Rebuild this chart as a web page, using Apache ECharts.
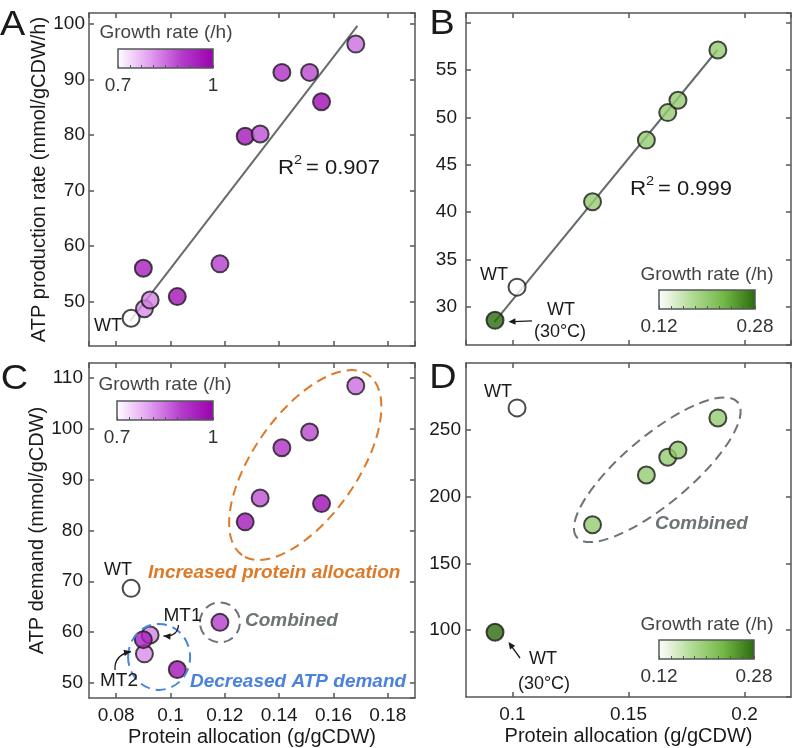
<!DOCTYPE html>
<html><head><meta charset="utf-8">
<script src="https://cdn.jsdelivr.net/npm/echarts@6/dist/echarts.min.js"></script>
<style>html,body{margin:0;padding:0;background:#fff}#c{width:793px;height:748px}</style>
</head><body><div id="c"></div>
<script>
// ---------- data ----------
// Panels A & C share strains (protein allocation, g/gCDW)
const xAC = [0.0855, 0.0904, 0.0925, 0.0900, 0.1025, 0.1182, 0.1275, 0.1330, 0.1410, 0.1512, 0.1556, 0.1682];
const yA  = [47.0, 48.7, 50.3, 56.0, 50.9, 56.8, 79.8, 80.2, 91.3, 91.3, 86.0, 96.4];   // ATP production rate
const yC  = [68.6, 55.7, 59.4, 58.5, 52.6, 61.9, 81.7, 86.4, 96.3, 99.4, 85.3, 108.5]; // ATP demand
const growthAC = [0.70, 0.82, 0.83, 0.95, 0.97, 0.90, 0.96, 0.88, 0.92, 0.89, 0.98, 0.85];
// Panels B & D share strains
const xBD = [0.1020, 0.0925, 0.1345, 0.1577, 0.1669, 0.1713, 0.1885];
const yB  = [32.1, 28.6, 41.1, 47.6, 50.5, 51.8, 57.1];
const yD  = [266.4, 98.5, 178.9, 216.2, 229.4, 234.8, 258.9];
const growthBD = [0.12, 0.28, 0.20, 0.20, 0.20, 0.20, 0.20];
// regression lines (end points)
const fitAx = [0.0851, 0.1688], fitAy = [46.5, 99.7];
const fitBx = [0.0922, 0.1883], fitBy = [28.4, 57.1];
// colour scales
const purpleRange = [0.7, 1];
const greenRange = [0.12, 0.28];
const purpleLabels = ['0.7', '1'];
const greenLabels = ['0.12', '0.28'];

// ---------- styling ----------
const FONT = '"Liberation Sans", Arial, Helvetica, sans-serif';
const AX = '#535858';
const purple = ['#ffffff', '#e2a0f0', '#b43ccc', '#9a00ae'];
const green = ['#ffffff', '#b5dc98', '#74b948', '#2c6a0c'];

const grids = [
  {left: 89, top: 13, width: 326, height: 333},
  {left: 466, top: 13, width: 325, height: 332},
  {left: 89, top: 363, width: 326, height: 335},
  {left: 466, top: 363, width: 325, height: 334},
  {left: 118, top: 49, width: 95, height: 19},
  {left: 659, top: 290, width: 96, height: 19},
  {left: 117, top: 401, width: 96, height: 19},
  {left: 659, top: 640, width: 95, height: 19}
];
function grad(cols) {
  return new echarts.graphic.LinearGradient(0, 0, 1, 0,
    cols.map((c, i) => ({offset: i / (cols.length - 1), color: c})));
}
const gridOpts = grids.map((g, i) => Object.assign({containLabel: false}, g, i >= 4 ? {
  show: true, borderColor: AX, borderWidth: 1.5,
  backgroundColor: grad(i === 4 || i === 6 ? purple : green)
} : {show: false}));

const lineS = {show: true, lineStyle: {color: AX, width: 1.5}};
const tickS = {show: true, inside: true, length: 5, lineStyle: {color: AX, width: 1.5}};
const lblS = {color: '#1a1a1a', fontSize: 19, fontFamily: FONT, showMinLabel: false, showMaxLabel: false};

const xr = [[0.07, 0.19, 5], [0.08, 0.22, 3], [0.07, 0.19, 5], [0.08, 0.22, 3]];
const yr = [[42, 102, 6], [26, 61, 7], [47, 113, 5], [50, 300, 5]];
const yMargin = [4, 9, 6, 5];
const yNameGap = [35, 0, 38, 0];
const hideY = {1: [60]};

const xAxes = [], yAxes = [];
for (let i = 0; i < 4; i++) {
  const showLbl = i >= 2;
  const ax = {type: 'value', gridIndex: i, position: 'bottom', min: xr[i][0], max: xr[i][1], splitNumber: xr[i][2],
    axisLine: lineS, axisTick: tickS, splitLine: {show: false},
    axisLabel: Object.assign({}, lblS, {show: showLbl, margin: 8})};
  if (showLbl) Object.assign(ax, {name: 'Protein allocation (g/gCDW)', nameLocation: 'middle', nameGap: 29,
    nameTextStyle: {color: '#1a1a1a', fontSize: 20, fontFamily: FONT}});
  xAxes[i] = ax;
  const ay = {type: 'value', gridIndex: i, position: 'left', min: yr[i][0], max: yr[i][1], splitNumber: yr[i][2],
    axisLine: lineS, axisTick: tickS, splitLine: {show: false},
    axisLabel: Object.assign({}, lblS, {margin: yMargin[i], formatter: v => (hideY[i] && hideY[i].includes(v)) ? '' : String(v)})};
  if (i === 0 || i === 2) Object.assign(ay, {name: i === 0 ? 'ATP production rate (mmol/gCDW/h)' : 'ATP demand (mmol/gCDW)',
    nameLocation: 'middle', nameGap: yNameGap[i], nameTextStyle: {color: '#1a1a1a', fontSize: 20, fontFamily: FONT}});
  yAxes[i] = ay;
}
for (let i = 0; i < 4; i++) {
  xAxes[4 + i] = {type: 'value', gridIndex: i, position: 'top', min: xr[i][0], max: xr[i][1], splitNumber: xr[i][2],
    axisLine: lineS, axisTick: tickS, splitLine: {show: false}, axisLabel: {show: false}};
  yAxes[4 + i] = {type: 'value', gridIndex: i, position: 'right', min: yr[i][0], max: yr[i][1], splitNumber: yr[i][2],
    axisLine: lineS, axisTick: tickS, splitLine: {show: false}, axisLabel: {show: false}};
}
for (let k = 0; k < 4; k++) {
  const r = (k === 0 || k === 2) ? purpleRange : greenRange;
  const labs = (k === 0 || k === 2) ? purpleLabels : greenLabels;
  xAxes[8 + k] = {type: 'value', gridIndex: 4 + k, min: r[0], max: r[1], interval: (r[1] - r[0]) / 8,
    axisLine: {show: false}, axisTick: {show: true, inside: true, length: 3, lineStyle: {color: AX, width: 1}},
    splitLine: {show: false},
    axisLabel: {color: '#333', fontSize: 19, fontFamily: FONT, margin: 8, showMinLabel: true, showMaxLabel: true,
      formatter: v => Math.abs(v - r[0]) < 1e-9 ? labs[0] : (Math.abs(v - r[1]) < 1e-9 ? labs[1] : '')}};
  yAxes[8 + k] = {type: 'value', gridIndex: 4 + k, min: 0, max: 1, show: false};
}

const pt = {borderColor: '#1c1c1c', borderWidth: 2};
const series = [
  {type: 'line', xAxisIndex: 0, yAxisIndex: 0, data: fitAx.map((x, i) => [x, fitAy[i]]), symbol: 'none', z: 1,
    lineStyle: {color: '#666b6b', width: 2}, silent: true},
  {type: 'line', xAxisIndex: 1, yAxisIndex: 1, data: fitBx.map((x, i) => [x, fitBy[i]]), symbol: 'none', z: 1,
    lineStyle: {color: '#666b6b', width: 2}, silent: true},
  {type: 'scatter', xAxisIndex: 0, yAxisIndex: 0, symbolSize: 17, z: 3, itemStyle: pt,
    data: xAC.map((x, i) => [x, yA[i], growthAC[i]])},
  {type: 'scatter', xAxisIndex: 1, yAxisIndex: 1, symbolSize: 17, z: 3, itemStyle: pt,
    data: xBD.map((x, i) => [x, yB[i], growthBD[i]])},
  {type: 'scatter', xAxisIndex: 2, yAxisIndex: 2, symbolSize: 17, z: 3, itemStyle: pt,
    data: xAC.map((x, i) => [x, yC[i], growthAC[i]])},
  {type: 'scatter', xAxisIndex: 3, yAxisIndex: 3, symbolSize: 17, z: 3, itemStyle: pt,
    data: xBD.map((x, i) => [x, yD[i], growthBD[i]])}
];

const chart = echarts.init(document.getElementById('c'), null, {renderer: 'canvas'});
chart.setOption({
  animation: false,
  backgroundColor: '#fff',
  textStyle: {fontFamily: FONT},
  grid: gridOpts, xAxis: xAxes, yAxis: yAxes, series,
  visualMap: [
    {type: 'continuous', show: false, seriesIndex: [2, 4], dimension: 2, min: purpleRange[0], max: purpleRange[1], inRange: {color: purple}},
    {type: 'continuous', show: false, seriesIndex: [3, 5], dimension: 2, min: greenRange[0], max: greenRange[1], inRange: {color: green}}
  ]
});

// ---------- annotations ----------
function txt(x, y, s, o) {
  o = o || {};
  return {type: 'text', x, y, z: 50, silent: true, scaleX: o.sx || 1,
    style: {text: s,
    font: o.font || ('18px ' + FONT), fill: o.fill || '#1a1a1a',
    align: o.align || 'center', verticalAlign: 'middle', textAlign: o.align || 'center', textVerticalAlign: 'middle'}};
}
function head(tx, ty, hx, hy) {
  const dx = hx - tx, dy = hy - ty, L = Math.hypot(dx, dy), ux = dx / L, uy = dy / L, len = 7, w = 3.2;
  const bx = hx - ux * len, by = hy - uy * len;
  return {type: 'polygon', z: 50, silent: true, shape: {points: [[hx, hy], [bx - uy * w, by + ux * w], [bx + uy * w, by - ux * w]]},
    style: {fill: '#1a1a1a'}};
}
function straightArrow(x1, y1, x2, y2) {
  const L = Math.hypot(x2 - x1, y2 - y1), k = (L - 5) / L;
  return [{type: 'line', z: 50, silent: true, shape: {x1, y1, x2: x1 + (x2 - x1) * k, y2: y1 + (y2 - y1) * k},
    style: {stroke: '#1a1a1a', lineWidth: 1.3}}, head(x1, y1, x2, y2)];
}
function curvedArrow(x1, y1, cx, cy, x2, y2) {
  return [{type: 'bezierCurve', z: 50, silent: true, shape: {x1, y1, cpx1: cx, cpy1: cy, x2, y2},
    style: {stroke: '#1a1a1a', lineWidth: 1.3, fill: null}}, head(cx, cy, x2, y2)];
}
function px(gi, x, y) { return chart.convertToPixel({gridIndex: gi}, [x, y]); }
function ell(c, rx, ry, deg, color) {
  return {type: 'ellipse', x: c[0], y: c[1], rotation: deg * Math.PI / 180, z: 40, silent: true,
    shape: {cx: 0, cy: 0, rx, ry}, style: {fill: null, stroke: color, lineWidth: 2, lineDash: [10, 6]}};
}
const BI = 'italic bold 19px ' + FONT;
const ORANGE = '#dd7a2a', BLUE = '#4a82dc', GRAY = '#6c7575';
const LET = '35px ' + FONT;
const g = [
  txt(12.5, 25, 'A', {font: LET, sx: 1.08}),
  txt(442, 24, 'B', {font: LET, sx: 1.08}),
  txt(14.5, 379, 'C', {font: LET, sx: 1.08}),
  txt(443, 378, 'D', {font: LET, sx: 1.08}),
  // colorbar titles
  txt(166, 33, 'Growth rate (/h)', {fill: '#444', font: '19px ' + FONT}),
  txt(707, 275, 'Growth rate (/h)', {fill: '#444', font: '19px ' + FONT}),
  txt(165, 385, 'Growth rate (/h)', {fill: '#444', font: '19px ' + FONT}),
  txt(707, 625, 'Growth rate (/h)', {fill: '#444', font: '19px ' + FONT}),
  // R^2
  txt(278, 168, 'R', {align: 'left', font: '20px ' + FONT, sx: 1.12}),
  txt(294, 160, '2', {align: 'left', font: '13px ' + FONT, sx: 1.12}),
  txt(306, 168, '= 0.907', {align: 'left', font: '20px ' + FONT, sx: 1.1}),
  txt(630, 189, 'R', {align: 'left', font: '20px ' + FONT, sx: 1.12}),
  txt(646, 181, '2', {align: 'left', font: '13px ' + FONT, sx: 1.12}),
  txt(658, 189, '= 0.999', {align: 'left', font: '20px ' + FONT, sx: 1.1}),
  // WT labels
  txt(108, 326, 'WT'),
  txt(494, 275, 'WT'),
  txt(561, 310, 'WT'),
  txt(560, 332, '(30°C)'),
  txt(118, 570, 'WT'),
  txt(182.5, 616, 'MT1', {font: '19px ' + FONT}),
  txt(119, 681, 'MT2', {font: '19px ' + FONT}),
  txt(498, 392, 'WT'),
  txt(543, 659, 'WT'),
  txt(544, 684, '(30°C)'),
  // group labels
  txt(148, 573, 'Increased protein allocation', {align: 'left', font: BI, fill: ORANGE}),
  txt(245, 621, 'Combined', {align: 'left', font: BI, fill: GRAY}),
  txt(190, 682, 'Decreased ATP demand', {align: 'left', font: BI, fill: BLUE}),
  txt(655, 524, 'Combined', {align: 'left', font: BI, fill: GRAY}),
  // ellipses
  ell(px(2, 0.1496, 92.9), 110, 52, 55, ORANGE),
  ell(px(2, 0.0958, 55.1), 31, 33, 0, BLUE),
  ell(px(2, xAC[5], yC[5]), 20, 20, 0, GRAY),
  ell(px(3, 0.1624, 220.1), 105, 34, 40, GRAY)
].concat(
  straightArrow(532, 320.8, 508.5, 321.8),
  straightArrow(520, 658, 508.5, 642),
  curvedArrow(178.5, 625, 177.5, 637, 163.5, 636),
  curvedArrow(115, 670, 114, 655, 131, 651.5)
);
chart.setOption({graphic: {elements: g}});
</script></body></html>
